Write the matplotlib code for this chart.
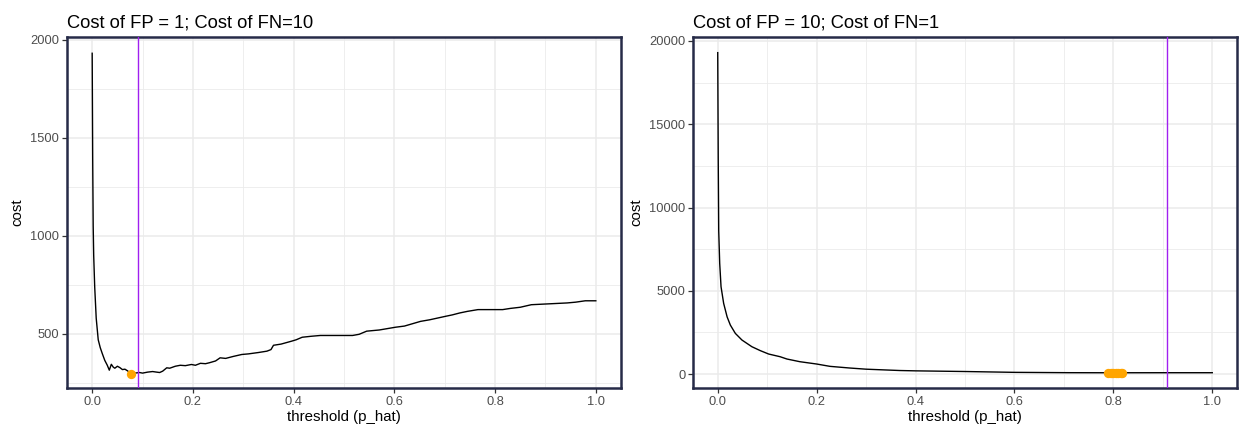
import numpy as np
import matplotlib
matplotlib.use('Agg')
import matplotlib.pyplot as plt
from matplotlib.ticker import MultipleLocator

plt.rcParams['font.family'] = ['Liberation Sans', 'DejaVu Sans']

# left panel: cost of FP = 1, FN = 10
left_x = [0.000, 0.001, 0.002, 0.003, 0.005, 0.008, 0.012, 0.016, 0.020, 0.025,
          0.030, 0.034, 0.038, 0.042, 0.045, 0.050, 0.055, 0.060, 0.065, 0.070,
          0.078, 0.085, 0.094, 0.100, 0.110, 0.120, 0.128, 0.134, 0.140, 0.148,
          0.154, 0.165, 0.175, 0.185, 0.197, 0.205, 0.215, 0.225, 0.233, 0.245,
          0.254, 0.265, 0.280, 0.297, 0.310, 0.330, 0.347, 0.355, 0.360, 0.375,
          0.396, 0.405, 0.417, 0.435, 0.453, 0.480, 0.517, 0.530, 0.545, 0.570,
          0.602, 0.620, 0.652, 0.670, 0.702, 0.715, 0.730, 0.745, 0.766, 0.815,
          0.830, 0.850, 0.872, 0.943, 0.960, 0.979, 1.000]
left_cost = [1932, 1400, 1050, 900, 740, 580, 470, 430, 400, 365,
             340, 315, 345, 330, 325, 335, 328, 318, 320, 312,
             296, 300, 303, 300, 305, 308, 305, 303, 310, 327,
             325, 335, 340, 338, 344, 340, 350, 348, 353, 362,
             378, 375, 385, 395, 398, 405, 412, 420, 442, 448,
             463, 470, 483, 488, 492, 492, 492, 498, 514, 520,
             534, 540, 564, 572, 590, 597, 607, 615, 624, 624,
             630, 636, 649, 658, 662, 669, 669]
left_min_x = [0.078]
left_min_cost = [296]
left_vline = 0.091

# right panel: cost of FP = 10, FN = 1
right_x = [0.000, 0.001, 0.002, 0.004, 0.0067, 0.012, 0.019, 0.0255, 0.0356, 0.049,
           0.069, 0.086, 0.103, 0.126, 0.140, 0.166, 0.200, 0.227, 0.267, 0.300,
           0.368, 0.400, 0.500, 0.600, 0.710, 0.800, 0.900, 1.000]
right_cost = [19300, 13000, 8600, 6640, 5240, 4240, 3430, 2940, 2440, 2040,
              1640, 1405, 1200, 1040, 900, 740, 600, 460, 360, 290,
              210, 190, 150, 100, 80, 75, 78, 78]
right_min_x = [0.790, 0.795, 0.800, 0.805, 0.810, 0.815, 0.818]
right_min_cost = [75, 75, 75, 75, 75, 75, 75]
right_vline = 0.909

border_col = '#262B48'
grid_col = '#EBEBEB'

fig = plt.figure(figsize=(12.39, 4.30), dpi=100)
ax1 = fig.add_axes([67/1239, 42/430, 554/1239, 351/430])
ax2 = fig.add_axes([693/1239, 42/430, 544/1239, 351/430])


def style_axis(ax, title, ymajor, yminor):
    ax.set_xlim(-0.05, 1.05)
    ax.xaxis.set_major_locator(MultipleLocator(0.2))
    ax.xaxis.set_minor_locator(MultipleLocator(0.1))
    ax.yaxis.set_major_locator(MultipleLocator(ymajor))
    ax.yaxis.set_minor_locator(MultipleLocator(yminor))
    ax.grid(which='major', color=grid_col, linewidth=1.1, zorder=0)
    ax.grid(which='minor', color=grid_col, linewidth=0.6, zorder=0)
    ax.set_axisbelow(True)
    ax.tick_params(which='minor', length=0)
    ax.tick_params(which='major', length=3.5, width=0.9, color='#333333',
                   labelcolor='#4D4D4D', labelsize=9.3, pad=2)
    ax.xaxis.set_major_formatter(plt.FuncFormatter(lambda v, p: f'{v:.1f}'))
    for s in ax.spines.values():
        s.set_color(border_col)
        s.set_linewidth(1.8)
    ax.set_xlabel('threshold (p_hat)', fontsize=10.8, labelpad=2)
    ax.set_ylabel('cost', fontsize=10.8, labelpad=4)
    ax.set_title(title, fontsize=13.2, loc='left', pad=7)


ax1.plot(left_x, left_cost, color='black', linewidth=1.0, zorder=3)
ax1.axvline(left_vline, color='#A020F0', linewidth=1.0, zorder=4)
ax1.scatter(left_min_x, left_min_cost, color='#FFA500', s=45, zorder=5, linewidths=0)
ax1.set_ylim(224, 2015)
style_axis(ax1, 'Cost of FP = 1; Cost of FN=10', 500, 250)
ax1.set_yticks([500, 1000, 1500, 2000])

ax2.plot(right_x, right_cost, color='black', linewidth=1.0, zorder=3)
ax2.axvline(right_vline, color='#A020F0', linewidth=1.0, zorder=4)
ax2.scatter(right_min_x, right_min_cost, color='#FFA500', s=45, zorder=5, linewidths=0)
ax2.set_ylim(-840, 20240)
style_axis(ax2, 'Cost of FP = 10; Cost of FN=1', 5000, 2500)
ax2.set_yticks([0, 5000, 10000, 15000, 20000])

fig.savefig('out.png', dpi=100)
